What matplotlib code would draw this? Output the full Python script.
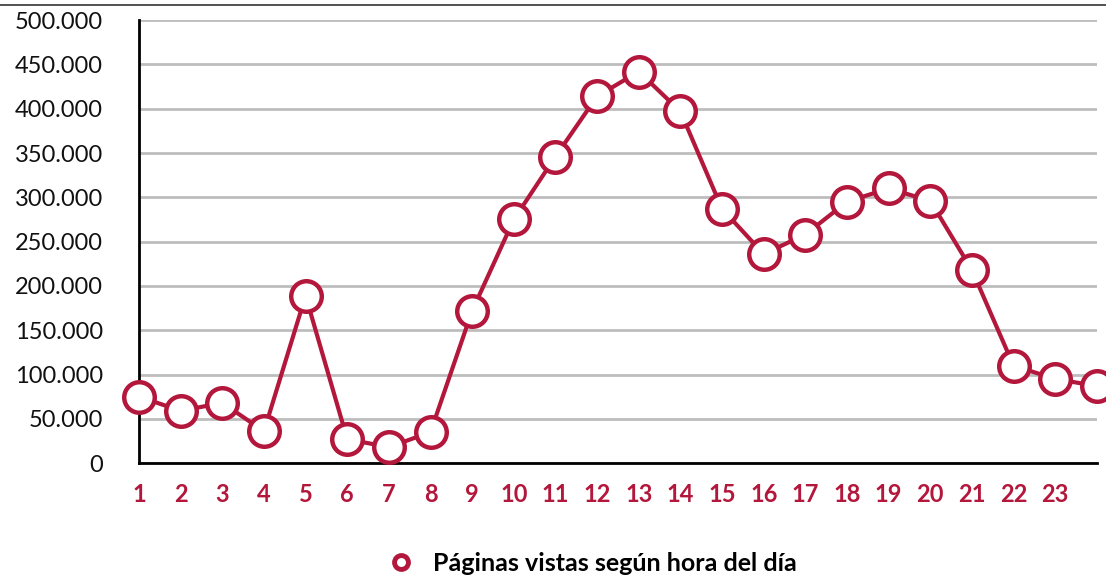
import matplotlib.pyplot as plt
from matplotlib.lines import Line2D
from matplotlib.ticker import FuncFormatter

# Data
hours = list(range(1, 25))
views = [75000, 59000, 68000, 36000, 189000, 27000, 18000, 35000,
         172000, 275000, 346000, 414000, 442000, 397000, 287000, 236000,
         258000, 295000, 310000, 296000, 218000, 110000, 95000, 87000]
hour_labels = [str(h) for h in range(1, 24)]
yticks = list(range(0, 500001, 50000))
series_name = "Páginas vistas según hora del día"

red = "#B3173B"

plt.rcParams["font.family"] = ["Lato", "DejaVu Sans"]

fig = plt.figure(figsize=(11.06, 5.76), dpi=100)
ax = fig.add_axes([0.1257, 0.196, 0.866, 0.769])

ax.plot(hours, views, color=red, linewidth=3, marker="o", markersize=22,
        markerfacecolor="white", markeredgecolor=red, markeredgewidth=3.2,
        clip_on=False, zorder=3)

ax.set_xlim(1, 24)
ax.set_ylim(0, 500000)
ax.set_yticks(yticks)
ax.yaxis.set_major_formatter(FuncFormatter(lambda v, p: "0" if v == 0 else f"{int(v):,}".replace(",", ".")))
ax.set_xticks(range(1, 24))
ax.set_xticklabels(hour_labels)

ax.grid(axis="y", color="#bdbdbd", linewidth=2)
ax.set_axisbelow(True)
for s in ["top", "right"]:
    ax.spines[s].set_visible(False)
for s in ["left", "bottom"]:
    ax.spines[s].set_linewidth(2)
    ax.spines[s].set_color("black")

ax.tick_params(axis="both", length=0)
ax.tick_params(axis="y", labelsize=17, pad=26, labelcolor="#111111")
ax.tick_params(axis="x", labelsize=17, pad=14, labelcolor=red)
for t in ax.get_xticklabels():
    t.set_fontweight("bold")

# top rule
fig.add_artist(Line2D([0, 1], [0.991, 0.991], color="#333333", linewidth=1.2))

handle = Line2D([], [], color=red, marker="o", linestyle="none", markersize=10,
                markerfacecolor="white", markeredgewidth=3.5)
fig.legend([handle], [series_name], loc="center", bbox_to_anchor=(0.53, 0.022),
           frameon=False, prop={"weight": "bold", "size": 18}, handletextpad=0.3)

plt.savefig("out.png", dpi=100)
